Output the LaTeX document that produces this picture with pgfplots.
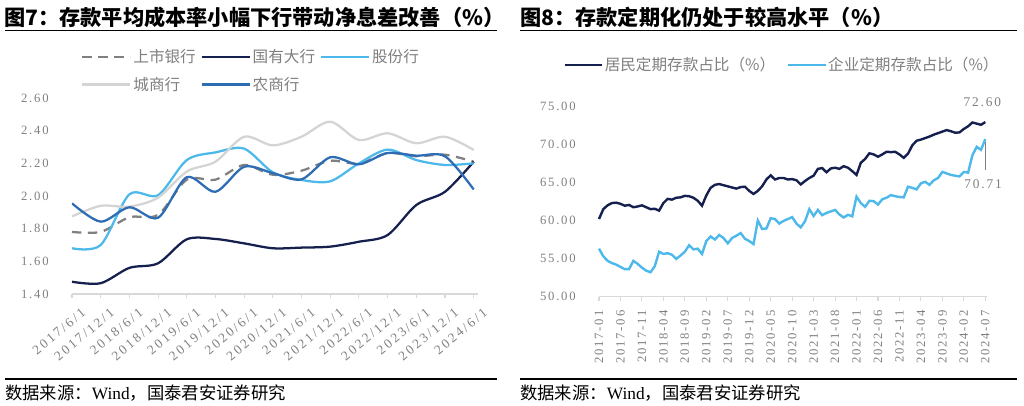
\documentclass[border=0pt]{standalone}
\usepackage{fontspec}
\setmainfont{Liberation Serif}
\newfontfamily\cjk{Noto Sans CJK SC}
\newfontfamily\tickf[LetterSpace=14]{Liberation Serif}
\newfontfamily\xtickf[LetterSpace=18]{Liberation Serif}
\usepackage{pgfplots}
\usepackage{pgfplotstable}
\pgfplotsset{compat=1.18}
\definecolor{navy}{HTML}{16204F}
\definecolor{lblue}{HTML}{4DB8EA}
\definecolor{mblue}{HTML}{2E6CB4}
\definecolor{lgrey}{HTML}{D4D4D4}
\definecolor{dgrey}{HTML}{808080}
\definecolor{txtgrey}{HTML}{7F7F7F}
\definecolor{axgrey}{HTML}{D9D9D9}

\pgfplotstableread{
k ss gy gf cs ns
0 1.78 1.475 1.68 1.875 1.955
1 1.78 1.466 1.70 1.94 1.843
2 1.87 1.56 2.01 1.935 1.931
3 1.885 1.588 2.005 1.99 1.867
4 2.10 1.735 2.22 2.15 2.115
5 2.10 1.737 2.267 2.21 2.026
6 2.19 1.71 2.29 2.363 2.179
7 2.13 1.68 2.145 2.31 2.14
8 2.155 1.684 2.098 2.363 2.102
9 2.216 1.69 2.09 2.455 2.237
10 2.198 1.72 2.20 2.343 2.194
11 2.263 1.761 2.284 2.384 2.263
12 2.243 1.945 2.22 2.323 2.247
13 2.253 2.026 2.19 2.363 2.243
14 2.21 2.21 2.20 2.282 2.04
}\tabL

\pgfplotstableread{
m jm qy
0 60.2 56.3
1 61.5 55.3
2 62.0 54.7
3 62.3 54.4
4 62.35 54.2
5 62.2 53.9
6 61.95 53.6
7 62.05 53.6
8 61.75 54.7
9 61.85 54.3
10 62.0 53.8
11 61.75 53.4
12 61.5 53.2
13 61.55 54.0
14 61.3 55.9
15 62.3 55.6
16 62.85 55.7
17 62.75 55.5
18 63.0 54.95
19 63.05 55.4
20 63.25 55.9
21 63.2 56.75
22 63.0 56.2
23 62.6 56.3
24 61.95 55.6
25 63.3 57.3
26 64.3 57.9
27 64.7 57.5
28 64.8 58.1
29 64.65 57.7
30 64.5 57.0
31 64.35 57.7
32 64.2 58.0
33 64.4 58.35
34 64.45 57.6
35 63.9 57.3
36 63.5 56.9
37 63.9 60.0
38 64.5 58.9
39 65.4 58.95
40 65.95 60.3
41 65.4 60.2
42 65.6 59.6
43 65.6 59.95
44 65.4 60.2
45 65.45 60.45
46 65.3 59.6
47 64.75 59.1
48 65.2 59.9
49 65.6 61.5
50 65.9 60.6
51 66.8 61.4
52 66.9 60.7
53 66.35 61.0
54 66.85 61.2
55 66.95 61.4
56 66.8 60.8
57 67.15 60.4
58 66.95 60.75
59 66.5 60.55
60 66.0 63.15
61 67.6 62.3
62 68.1 61.8
63 68.85 62.6
64 68.7 62.55
65 68.4 62.1
66 68.7 62.8
67 69.05 63.0
68 69.0 63.35
69 69.05 63.2
70 68.7 63.1
71 68.25 63.05
72 68.8 64.45
73 69.9 64.3
74 70.5 64.1
75 70.65 64.9
76 70.85 65.1
77 71.05 64.7
78 71.3 65.3
79 71.5 65.6
80 71.7 66.4
81 71.9 66.2
82 71.75 66.0
83 71.55 65.9
84 71.6 65.8
85 72.05 66.4
86 72.4 66.3
87 72.9 68.6
88 72.75 69.7
89 72.6 69.3
90 72.95 70.71
}\tabR

\begin{document}
\begin{tikzpicture}[x=0.75pt,y=-0.75pt]
\useasboundingbox (0,0) rectangle (1024,406);

% titles and rules
\node[anchor=west, inner sep=0pt, font=\cjk\bfseries\fontsize{15.9}{17}\selectfont] at (4,17) {图7：存款平均成本率小幅下行带动净息差改善（\%）};
\node[anchor=west, inner sep=0pt, font=\cjk\bfseries\fontsize{15.9}{17}\selectfont] at (520,17) {图8：存款定期化仍处于较高水平（\%）};
\draw[line width=1pt] (5,30.5) -- (497,30.5);
\draw[line width=1pt] (520,30.5) -- (1017,30.5);
\draw[line width=1pt] (5,379) -- (497,379);
\draw[line width=1pt] (520,379) -- (1017,379);
\node[anchor=west, inner sep=0pt, font=\cjk\fontsize{13}{15}\selectfont] at (5,393) {数据来源：\textrm{Wind}，国泰君安证券研究};
\node[anchor=west, inner sep=0pt, font=\cjk\fontsize{13}{15}\selectfont] at (520,393) {数据来源：\textrm{Wind}，国泰君安证券研究};

% left chart
\begin{axis}[
  at={(54pt,-220.5pt)}, anchor=south west,
  scale only axis, width=304.5pt, height=147pt,
  xmin=0, xmax=14.15, ymin=1.4, ymax=2.6,
  axis x line*=bottom, axis y line*=left,
  x axis line style={axgrey, line width=0.8pt},
  y axis line style={draw=none},
  xtick={0,...,14},
  xticklabels={2017/6/1,2017/12/1,2018/6/1,2018/12/1,2019/6/1,2019/12/1,2020/6/1,2020/12/1,2021/6/1,2021/12/1,2022/6/1,2022/12/1,2023/6/1,2023/12/1,2024/6/1},
  xtick style={axgrey, line width=0.8pt}, tick align=outside, major tick length=3pt,
  ytick={1.4,1.6,1.8,2.0,2.2,2.4,2.6},
  yticklabels={1.40,1.60,1.80,2.00,2.20,2.40,2.60},
  ytick style={draw=none},
  /pgf/number format/assume math mode=true,
  ticklabel style={font=\tickf\fontsize{9.5}{10}\selectfont, text=txtgrey},
  yticklabel style={xshift=-11pt},
  xticklabel style={font=\xtickf\fontsize{10}{10}\selectfont, rotate=40, anchor=north east, yshift=-6pt, xshift=4pt},
  legend columns=3, legend cell align=left,
  legend style={draw=none, fill=none, at={(0.012,1.275)}, anchor=north west,
    font=\cjk\fontsize{11.7}{13}\selectfont, text=txtgrey, row sep=5pt,
    nodes={inner xsep=1.5pt},
    /tikz/every odd column/.append style={column sep=0pt},
    /tikz/every even column/.append style={column sep=2pt}},
  legend image code/.code={\draw[#1] (0pt,0pt) -- (36pt,0pt);},
  every axis plot/.append style={line width=1.7pt, smooth},
]
\addplot[dgrey, dash pattern=on 7pt off 5pt] table[x=k, y=ss] {\tabL};
\addlegendentry{上市银行}
\addplot[navy] table[x=k, y=gy] {\tabL};
\addlegendentry{国有大行}
\addplot[lblue] table[x=k, y=gf] {\tabL};
\addlegendentry{股份行}
\addplot[lgrey] table[x=k, y=cs] {\tabL};
\addlegendentry{城商行}
\addplot[mblue] table[x=k, y=ns] {\tabL};
\addlegendentry{农商行}
\end{axis}

% right chart
\begin{axis}[
  at={(449.25pt,-222.4pt)}, anchor=south west,
  scale only axis, width=291pt, height=142.5pt,
  xmin=0, xmax=90.4, ymin=50, ymax=75,
  clip=false,
  axis x line*=bottom, axis y line*=left,
  x axis line style={axgrey, line width=0.8pt},
  y axis line style={draw=none},
  xtick={0,5,...,90},
  xticklabels={2017-01,2017-06,2017-11,2018-04,2018-09,2019-02,2019-07,2019-12,2020-05,2020-10,2021-03,2021-08,2022-01,2022-06,2022-11,2023-04,2023-09,2024-02,2024-07},
  xtick style={axgrey, line width=0.8pt}, tick align=outside, major tick length=3pt,
  ytick={50,55,60,65,70,75},
  yticklabels={50.00,55.00,60.00,65.00,70.00,75.00},
  ytick style={draw=none},
  /pgf/number format/assume math mode=true,
  ticklabel style={font=\tickf\fontsize{9.5}{10}\selectfont, text=txtgrey},
  yticklabel style={xshift=-11pt},
  xticklabel style={rotate=90, anchor=east, xshift=-4pt},
  legend columns=2, legend cell align=left,
  legend style={draw=none, fill=none, at={(-0.102,1.22)}, anchor=west,
    font=\cjk\fontsize{11.7}{13}\selectfont, text=txtgrey,
    nodes={inner xsep=1pt},
    /tikz/every odd column/.append style={column sep=0pt},
    /tikz/every even column/.append style={column sep=8pt}},
  legend image code/.code={\draw[#1] (0pt,0pt) -- (28pt,0pt);},
  every axis plot/.append style={line width=1.8pt},
]
\addplot[navy] table[x=m, y=jm] {\tabR};
\addlegendentry{居民定期存款占比（\%）}
\addplot[lblue] table[x=m, y=qy] {\tabR};
\addlegendentry{企业定期存款占比（\%）}
\draw[dgrey, line width=0.8pt] (axis cs:90,70.3) -- (axis cs:90,66.6);
\node[font=\tickf\fontsize{10}{11}\selectfont, text=txtgrey] at (axis cs:89.3,75.6) {72.60};
\node[font=\tickf\fontsize{10}{11}\selectfont, text=txtgrey] at (axis cs:89.5,64.8) {70.71};
\end{axis}
\end{tikzpicture}
\end{document}
